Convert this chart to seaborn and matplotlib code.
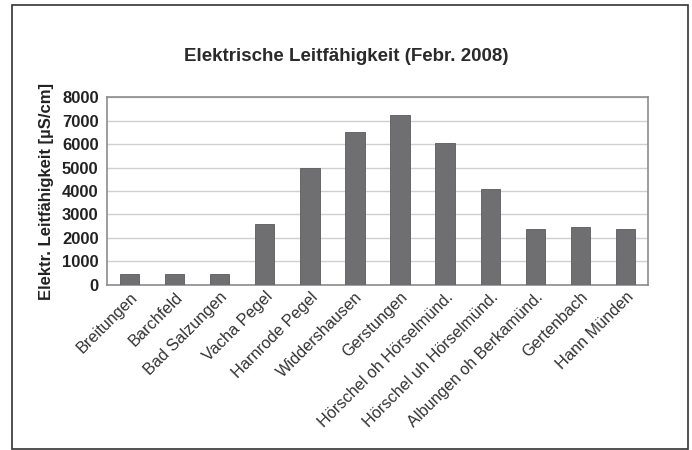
import matplotlib
matplotlib.use("Agg")
import matplotlib.pyplot as plt
import seaborn as sns
import pandas as pd
from matplotlib.patches import Rectangle

stations = ["Breitungen", "Barchfeld", "Bad Salzungen", "Vacha Pegel", "Harnrode Pegel",
            "Widdershausen", "Gerstungen", "Hörschel oh Hörselmünd.",
            "Hörschel uh Hörselmünd.", "Albungen oh Berkamünd.", "Gertenbach", "Hann Münden"]
values = [470, 470, 470, 2600, 4980, 6530, 7250, 6060, 4070, 2380, 2480, 2380]
yticks = [0, 1000, 2000, 3000, 4000, 5000, 6000, 7000, 8000]

df = pd.DataFrame({"Station": stations, "Wert": values})

sns.set_theme(style="white")
plt.rcParams["font.family"] = ["Liberation Sans", "DejaVu Sans"]

fig = plt.figure(figsize=(6.92, 4.5), dpi=100)
ax = fig.add_axes([0.1546, 0.3667, 0.7818, 0.4177])

sns.barplot(data=df, x="Station", y="Wert", color="#6f6f72", width=0.43,
            edgecolor="#5a5a5c", linewidth=0.6, saturation=1, ax=ax, zorder=3)

ax.set_ylim(0, 8000)
ax.set_yticks(yticks)
ax.set_yticklabels([str(v) for v in yticks], fontsize=12, fontweight="bold", color="#222222")
ax.set_xlim(-0.5, len(stations) - 0.5)
ax.set_xticks(range(len(stations)))
ax.set_xticklabels(stations, rotation=45, ha="right", rotation_mode="anchor",
                   fontsize=11.7, color="#333333")
ax.tick_params(axis="x", length=0, pad=3)
ax.tick_params(axis="y", length=0, pad=6)
ax.yaxis.grid(True, color="#d0d0d0", linewidth=1.0, zorder=0)
ax.set_axisbelow(True)
for s in ax.spines.values():
    s.set_color("#8c8c8c")
    s.set_linewidth(1.2)
ax.set_xlabel("")
ax.set_ylabel("Elektr. Leitfähigkeit [µS/cm]", fontsize=12, fontweight="bold",
              color="#222222", labelpad=6)

fig.text(0.5, 0.875, "Elektrische Leitfähigkeit (Febr. 2008)", ha="center", va="center",
         fontsize=13.5, fontweight="bold", color="#2a2a2a")

fig.patches.append(Rectangle((12 / 692, 1 / 450), 676 / 692, 444 / 450,
                             transform=fig.transFigure, fill=False,
                             edgecolor="#333333", linewidth=1.2))

fig.savefig("out.png", dpi=100, facecolor="white")
